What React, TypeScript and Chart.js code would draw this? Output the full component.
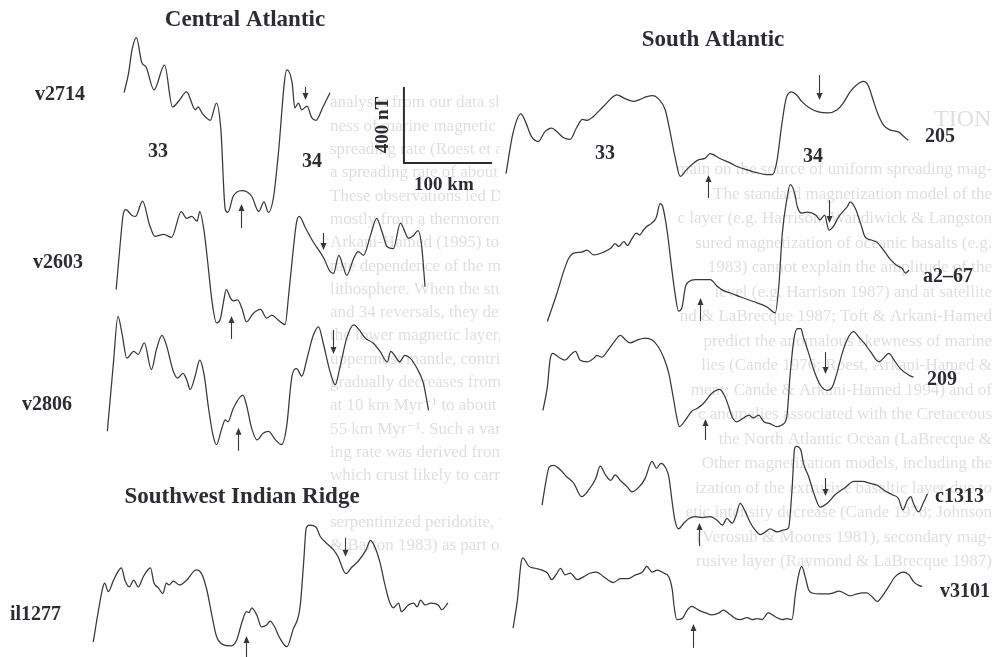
import React, { useEffect, useRef } from "react";
import { Chart, registerables } from "chart.js";

Chart.register(...registerables);

// ---------------- data: distance along profile (km) and anomaly (nT) ----------------
const v2714Km = [0,5,9,14,20,25,34,46,55,62,71,81,84,89,98,105,110,115,118,124,134,145,153,159,164,170,175,185,191,194,198,202,208,213,218,226,234];
const v2714Nt = [170,270,395,460,330,305,185,315,95,125,175,80,95,60,25,115,-25,-445,-460,-375,-345,-375,-455,-405,-460,-375,-165,290,220,90,115,80,100,40,25,95,170];

const v2603Km = [0,4,8,11,18,22,30,38,44,54,63,74,80,86,92,95,100,104,109,114,118,122,125,130,133,138,143,148,156,164,171,177,184,192,196,201,205,208,215,224,236,243,247,253,258,262,270,275,281,289,296,302,308,315,323,328,332,338,343,347,351];
const v2603Nt = [-140,70,255,280,250,245,325,200,140,150,135,270,235,245,220,270,165,5,-205,-315,-300,-205,-140,-185,-200,-195,-240,-310,-265,-245,-290,-275,-300,-325,-170,60,215,245,185,110,25,-45,-55,40,-20,-65,25,60,40,145,235,165,85,75,210,165,130,145,170,95,-125];

const v2806Km = [0,7,12,17,22,30,35,42,50,56,62,67,75,80,86,91,94,100,105,110,115,120,124,130,134,137,143,154,158,164,170,177,183,191,198,204,208,210,215,221,227,234,240,245,253,259,264,272,280,286,293,302,310,318,322,327,332,338,344,352,359,365];
const v2806Nt = [-265,100,340,240,120,155,140,200,60,170,240,190,50,15,40,-5,-45,30,110,30,-145,-285,-335,-250,-205,-215,-145,-75,-125,-250,-310,-275,-265,-310,-335,-230,-40,30,65,25,120,240,285,205,50,-20,65,225,295,270,225,200,155,100,155,130,100,135,120,65,-10,-155];

const il1277Km = [0,6,11,13,17,23,28,32,36,41,46,51,57,62,65,69,74,79,83,86,91,98,106,117,123,129,135,140,148,157,163,169,174,177,180,186,191,197,201,206,212,220,227,235,239,242,246,253,258,265,273,278,287,294,301,310,315,320,326,331,336,341,347,350,358,364,368,372,377,384,392,396,403];
const il1277Nt = [-295,-125,-5,15,-30,30,75,95,30,-5,30,-5,50,85,95,15,-10,-40,15,5,25,5,30,85,65,-20,-160,-265,-310,-315,-285,-190,-135,-140,-115,-155,-215,-205,-185,-215,-275,-320,-230,-110,120,305,320,310,260,225,190,155,65,100,130,190,240,205,120,15,-75,-115,-90,-135,-100,-90,-110,-75,-100,-90,-100,-125,-90];

const p205Km = [0,8,17,22,29,37,44,52,58,65,73,80,87,92,99,111,126,135,145,152,160,167,173,181,186,192,198,205,213,220,226,232,243,255,264,274,285,296,303,308,313,318,324,330,336,345,355,366,376,383,391,398,406,412,417,423,429,436,446,452,457];
const p205Nt = [-230,-15,85,45,-35,-60,-10,10,-10,-40,-50,10,55,50,70,125,185,165,150,160,175,180,165,105,0,-140,-245,-210,-175,-155,-150,-125,-150,-175,-195,-210,-225,-235,-235,-160,15,160,200,185,150,115,95,90,105,140,200,235,255,230,160,80,25,0,-10,-35,-55];

const a267Km = [0,11,19,24,30,39,45,53,64,72,77,81,87,91,96,101,105,109,113,118,124,128,131,136,141,145,149,153,157,161,168,178,185,193,199,208,219,234,250,259,263,267,272,276,281,284,289,295,305,310,315,320,325,331,337,341,344,350,356,361,367,375,382,390,397,403,407,411];
const a267Nt = [-360,-210,-90,-30,0,5,15,-10,5,25,50,35,60,40,75,105,95,120,140,155,190,260,245,120,-70,-210,-305,-285,-175,-150,-140,-140,-140,-175,-195,-210,-230,-255,-285,-315,-175,105,280,360,315,245,210,215,200,175,200,120,140,190,225,245,270,235,155,85,70,55,15,-35,-65,-80,-105,-90];

const p209Km = [0,5,8,11,18,25,33,37,42,50,58,61,67,73,80,88,94,99,107,116,124,131,137,143,148,152,155,162,169,175,182,192,201,207,211,215,220,228,234,239,245,251,258,266,272,277,281,285,289,293,296,302,308,315,323,329,334,340,347,353,359,365,372,382,387,393,399,406,416,421];
const p209Nt = [-170,-45,95,130,110,95,130,140,95,85,105,120,110,140,185,225,200,185,200,210,200,165,110,25,-100,-205,-255,-220,-175,-160,-135,-80,-60,-100,-150,-205,-230,-210,-195,-210,-195,-230,-240,-255,-245,-205,25,200,260,260,215,130,40,-35,-65,-45,25,130,215,245,215,185,140,85,105,130,95,50,15,5];

const c1313Km = [0,4,8,13,21,28,36,45,53,61,66,72,78,83,89,97,102,110,117,125,130,135,140,144,148,151,155,161,167,174,182,191,199,205,210,216,220,225,231,237,242,248,254,259,267,275,280,284,287,289,294,297,303,309,316,324,333,345,354,364,373,381,388,398,405,410,415,419,422,428,433,438];
const c1313Nt = [-85,30,115,125,100,65,30,-40,-5,55,120,75,45,75,45,10,-15,10,55,145,110,135,115,65,-75,-165,-210,-180,-155,-145,-150,-145,-165,-190,-155,-180,-145,-75,-120,-180,-215,-240,-225,-210,-225,-215,-205,-5,215,225,205,135,65,-25,-95,-75,-30,10,40,40,30,20,-5,-30,-50,-110,-60,-40,-75,-120,-75,-25];

const v3101Km = [0,5,9,11,18,25,33,39,44,50,54,59,65,73,80,88,95,103,111,114,122,131,139,147,152,158,164,171,177,181,183,186,192,198,203,211,219,226,234,239,247,253,258,266,272,277,283,290,298,306,311,317,321,325,328,332,336,340,349,359,364,370,376,383,391,397,402,408,414,419,427,434,444,450,455,461,465];
const v3101Nt = [-185,-35,155,185,140,130,120,105,70,105,130,95,105,70,85,105,110,85,60,55,75,75,95,110,140,110,120,105,85,15,-70,-140,-135,-90,-70,-90,-105,-115,-105,-90,-115,-135,-140,-130,-140,-135,-140,-105,-125,-140,-135,-140,0,105,140,85,15,0,-5,-5,0,10,0,-15,-5,0,0,-20,-45,-20,35,85,110,95,60,40,35];

// Chron arrows: distance along profile (km), tail and tip anomaly level (nT)
const ARROW_PROFILES = ["v2714","v2714","v2603","v2603","v2806","v2806","il1277","il1277","205","205","a2–67","a2–67","209","209","c1313","c1313","v3101"];
const ARROW_KM =       [206,133,235,130,256,148,286,174,356,229,320,173,320,184,322,178,204];
const ARROW_FROM_NT =  [200,-542,158,-400,268,-368,253,-400,289,-358,279,-358,137,-326,58,-300,-289];
const ARROW_TO_NT =    [132,-416,68,-279,142,-247,153,-263,158,-237,158,-237,21,-216,-37,-179,-163];

// Scale bar values
const SCALE_KM = 100;
const SCALE_NT = 400;

// ---------------- layout (positions / styles) ----------------
const W = 993;
const H = 657;
const X_MAX_KM = 1128.4; // 100 km = 88 px
const Y_MAX_NT = 3457.9; // 400 nT = 76 px

const PROFILES = [
  { name: "v2714", km: v2714Km, nt: v2714Nt, originKm: 141, baseNt: 2800 },
  { name: "v2603", km: v2603Km, nt: v2603Nt, originKm: 132, baseNt: 2074 },
  { name: "v2806", km: v2806Km, nt: v2806Nt, originKm: 122, baseNt: 1453 },
  { name: "il1277", km: il1277Km, nt: il1277Nt, originKm: 106, baseNt: 374 },
  { name: "205", km: p205Km, nt: p205Nt, originKm: 575, baseNt: 2774 },
  { name: "a2–67", km: a267Km, nt: a267Nt, originKm: 622, baseNt: 2126 },
  { name: "209", km: p209Km, nt: p209Nt, originKm: 617, baseNt: 1468 },
  { name: "c1313", km: c1313Km, nt: c1313Nt, originKm: 616, baseNt: 884 },
  { name: "v3101", km: v3101Km, nt: v3101Nt, originKm: 583, baseNt: 337 },
];

const SCALE_ORIGIN = { km: 459, nt: 2600 };

const SERIF = '"Liberation Serif", "DejaVu Serif", serif';
const INK = "#2c2c34";
const LINE = "#383838";
const BLEED = "rgba(90,90,90,0.20)";

const PROFILE_LABELS = [
  { text: "v2714", x: 35, y: 95 },
  { text: "v2603", x: 33, y: 263 },
  { text: "v2806", x: 22, y: 405 },
  { text: "il1277", x: 10, y: 615 },
  { text: "205", x: 925, y: 137 },
  { text: "a2–67", x: 923, y: 277 },
  { text: "209", x: 927, y: 380 },
  { text: "c1313", x: 935, y: 497 },
  { text: "v3101", x: 940, y: 592 },
];
const CHRON_LABELS = [
  { text: "33", x: 158, y: 152 },
  { text: "34", x: 312, y: 162 },
  { text: "33", x: 605, y: 154 },
  { text: "34", x: 813, y: 157 },
];
const TITLES = [
  { text: "Central Atlantic", x: 245, y: 20 },
  { text: "South Atlantic", x: 713, y: 40 },
  { text: "Southwest Indian Ridge", x: 242, y: 497 },
];

// faint show-through text of the scanned page
const LEFT_PAGE_LINES = [
  "analyses from our data show that the am-",
  "ness of marine magnetic anomalies decreases",
  "spreading rate (Roest et al. 1992) and becomes",
  "a spreading rate of about 50 km Myr⁻¹ (Dyment",
  "These observations led Dyment & Arkani-Hamed",
  "mostly from a thermoremanent remanence of the",
  "Arkani-Hamed (1995) to model the spreading",
  "rate dependence of the magnetic structure of the",
  "lithosphere. When the study of anomalies 33",
  "and 34 reversals, they demonstrated that the",
  "the lower magnetic layer, i.e. the lower crust",
  "uppermost mantle, contributes to the anomalies",
  "gradually decreases from about 40 per cent at",
  "at 10 km Myr⁻¹ to about 10 per cent at a rate",
  "55 km Myr⁻¹. Such a variation of magnetization",
  "ing rate was derived from the combined effect",
  "which crust likely to carry a remanence that",
  "",
  "serpentinized peridotite, which is thought to",
  "& Barton 1983) as part of the lower crust and",
];
const RIGHT_PAGE_LINES = [
  "main on the source of uniform spreading mag-",
  "The standard magnetization model of the",
  "c layer (e.g. Harrison, Wandiwick & Langston",
  "sured magnetization of oceanic basalts (e.g.",
  "1983) cannot explain the amplitude of the",
  "level (e.g. Harrison 1987) and at satellite",
  "nd & LaBrecque 1987; Toft & Arkani-Hamed",
  "predict the anomalous skewness of marine",
  "lies (Cande 1976; Roest, Arkani-Hamed &",
  "ment; Cande & Arkani-Hamed 1994) and of",
  "c anomalies associated with the Cretaceous",
  "the North Atlantic Ocean (LaBrecque &",
  "Other magnetization models, including the",
  "ization of the extrusive basaltic layer due to",
  "etic intensity decrease (Cande 1978; Johnson",
  "(Verosub & Moores 1981), secondary mag-",
  "rusive layer (Raymond & LaBrecque 1987)",
];
const LEFT_COL = { x0: 330, x1: 500, top: 103, gap: 23.3 };
const RIGHT_COL = { x0: 518, xRight: 992, top: 170, gap: 24.5 };

function drawArrow(ctx: CanvasRenderingContext2D, x: number, yFrom: number, yTo: number) {
  const dir = yTo > yFrom ? 1 : -1;
  const headLen = 7;
  const headHalf = 3;
  ctx.beginPath();
  ctx.moveTo(x, yFrom);
  ctx.lineTo(x, yTo - dir * headLen * 0.6);
  ctx.stroke();
  ctx.beginPath();
  ctx.moveTo(x, yTo);
  ctx.lineTo(x - headHalf, yTo - dir * headLen);
  ctx.lineTo(x + headHalf, yTo - dir * headLen);
  ctx.closePath();
  ctx.fill();
}

const overlayPlugin = {
  id: "figureOverlay",
  beforeDatasetsDraw(chart: any) {
    const ctx: CanvasRenderingContext2D = chart.ctx;
    ctx.save();
    ctx.fillStyle = BLEED;
    ctx.font = `17px ${SERIF}`;
    ctx.textBaseline = "middle";
    // left column
    ctx.save();
    ctx.beginPath();
    ctx.rect(LEFT_COL.x0 - 2, 0, LEFT_COL.x1 - LEFT_COL.x0 + 2, H);
    ctx.clip();
    ctx.textAlign = "left";
    LEFT_PAGE_LINES.forEach((t, i) => ctx.fillText(t, LEFT_COL.x0, LEFT_COL.top + i * LEFT_COL.gap));
    ctx.restore();
    // right column
    ctx.save();
    ctx.beginPath();
    ctx.rect(RIGHT_COL.x0, 0, W - RIGHT_COL.x0, H);
    ctx.clip();
    ctx.textAlign = "right";
    RIGHT_PAGE_LINES.forEach((t, i) => ctx.fillText(t, RIGHT_COL.xRight, RIGHT_COL.top + i * RIGHT_COL.gap));
    ctx.font = `24px ${SERIF}`;
    ctx.textAlign = "left";
    ctx.fillText("TION", 934, 120);
    ctx.restore();
    ctx.restore();
  },
  afterDatasetsDraw(chart: any) {
    const ctx: CanvasRenderingContext2D = chart.ctx;
    const xs = chart.scales.x;
    const ys = chart.scales.y;
    ctx.save();

    // arrows
    ctx.strokeStyle = LINE;
    ctx.fillStyle = LINE;
    ctx.lineWidth = 1.1;
    ARROW_PROFILES.forEach((name, i) => {
      const p = PROFILES.find((q) => q.name === name)!;
      const x = Math.round(xs.getPixelForValue(p.originKm + ARROW_KM[i])) + 0.5;
      const y0 = ys.getPixelForValue(p.baseNt + ARROW_FROM_NT[i]);
      const y1 = ys.getPixelForValue(p.baseNt + ARROW_TO_NT[i]);
      drawArrow(ctx, x, y0, y1);
    });

    // scale bar
    const sx0 = xs.getPixelForValue(SCALE_ORIGIN.km);
    const sx1 = xs.getPixelForValue(SCALE_ORIGIN.km + SCALE_KM);
    const sy0 = ys.getPixelForValue(SCALE_ORIGIN.nt);
    const sy1 = ys.getPixelForValue(SCALE_ORIGIN.nt + SCALE_NT);
    ctx.strokeStyle = INK;
    ctx.lineWidth = 2;
    ctx.beginPath();
    ctx.moveTo(sx0, sy1);
    ctx.lineTo(sx0, sy0);
    ctx.lineTo(sx1, sy0);
    ctx.stroke();

    ctx.fillStyle = INK;
    ctx.textBaseline = "middle";
    ctx.font = `bold 19px ${SERIF}`;
    ctx.textAlign = "center";
    ctx.fillText(`${SCALE_KM} km`, (sx0 + sx1) / 2 - 4, sy0 + 22);
    ctx.save();
    ctx.translate(sx0 - 21, (sy0 + sy1) / 2);
    ctx.rotate(-Math.PI / 2);
    ctx.fillText(`${SCALE_NT} nT`, 0, 0);
    ctx.restore();

    // titles
    ctx.font = `bold 23px ${SERIF}`;
    ctx.textAlign = "center";
    TITLES.forEach((t) => ctx.fillText(t.text, t.x, t.y));

    // profile labels
    ctx.font = `bold 20px ${SERIF}`;
    ctx.textAlign = "left";
    PROFILE_LABELS.forEach((t) => ctx.fillText(t.text, t.x, t.y));

    // chron labels
    ctx.textAlign = "center";
    CHRON_LABELS.forEach((t) => ctx.fillText(t.text, t.x, t.y));

    ctx.restore();
  },
};

export default function App() {
  const canvasRef = useRef<HTMLCanvasElement | null>(null);

  useEffect(() => {
    const canvas = canvasRef.current;
    if (!canvas) return;
    const datasets = PROFILES.map((p) => ({
      label: p.name,
      data: p.km.map((d, i) => ({ x: p.originKm + d, y: p.baseNt + p.nt[i] })),
      borderColor: LINE,
      borderWidth: 1.25,
      pointRadius: 0,
      fill: false,
      cubicInterpolationMode: "monotone" as const,
      clip: false as any,
    }));
    const chart = new Chart(canvas, {
      type: "line",
      data: { datasets },
      options: {
        animation: false,
        responsive: false,
        events: [],
        layout: { padding: 0 },
        plugins: {
          legend: { display: false },
          tooltip: { enabled: false },
          title: { display: false },
        },
        scales: {
          x: { type: "linear", display: false, min: 0, max: X_MAX_KM },
          y: { type: "linear", display: false, min: 0, max: Y_MAX_NT },
        },
      },
      plugins: [overlayPlugin],
    });
    return () => chart.destroy();
  }, []);

  return (
    <div style={{ position: "fixed", left: 0, top: 0, width: W, height: H, background: "#ffffff" }}>
      <canvas ref={canvasRef} width={W} height={H} style={{ display: "block" }} />
    </div>
  );
}
